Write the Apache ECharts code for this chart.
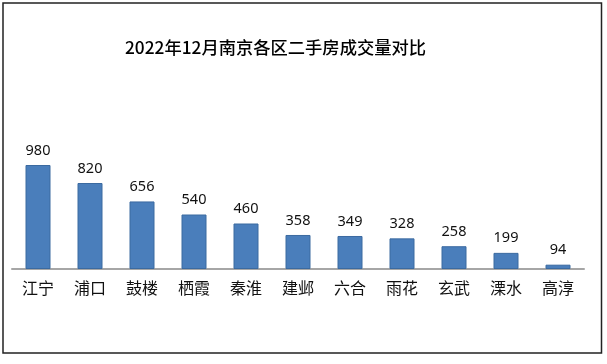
<!DOCTYPE html>
<html><head><meta charset="utf-8">
<script src="https://cdn.jsdelivr.net/npm/echarts@6/dist/echarts.min.js"></script>
<style>html,body{margin:0;padding:0;background:#fff}#c{width:607px;height:364px}</style>
</head><body><div id="c"></div>
<script>
const titleText = '2022年12月南京各区二手房成交量对比';
const categories = ['江宁','浦口','鼓楼','栖霞','秦淮','建邺','六合','雨花','玄武','溧水','高淳'];
const values = [980, 820, 656, 540, 460, 358, 349, 328, 258, 199, 94];

const chart = echarts.init(document.getElementById('c'), null, {renderer:'canvas'});
chart.setOption({
  backgroundColor:'#fff',
  animation:false,
  title:{text:titleText,left:125,top:39,padding:0,textStyle:{fontFamily:'Noto Sans CJK SC',fontSize:17.3,fontWeight:500,color:'#000'}},
  graphic:[{type:'rect',shape:{x:3,y:3,width:598.5,height:350},style:{fill:'none',stroke:'#222',lineWidth:1.5},silent:true}],
  grid:{left:12,right:23,top:162.75,bottom:95.5,containLabel:false},
  xAxis:{type:'category',data:categories,
    axisLine:{lineStyle:{color:'#a6a6a6',width:2}},axisTick:{show:false},
    axisLabel:{margin:11,fontSize:16,color:'#111',fontFamily:'Noto Sans CJK SC'}},
  yAxis:{type:'value',min:60,max:1000,show:false,splitLine:{show:false}},
  series:[{type:'bar',data:values,barWidth:25,
    itemStyle:{color:'#4a7ebb',borderColor:'#3b6aa0',borderWidth:1},
    label:{show:true,position:'top',distance:7,fontSize:14.5,color:'#111',fontFamily:'Noto Sans'}}]
});
</script></body></html>
